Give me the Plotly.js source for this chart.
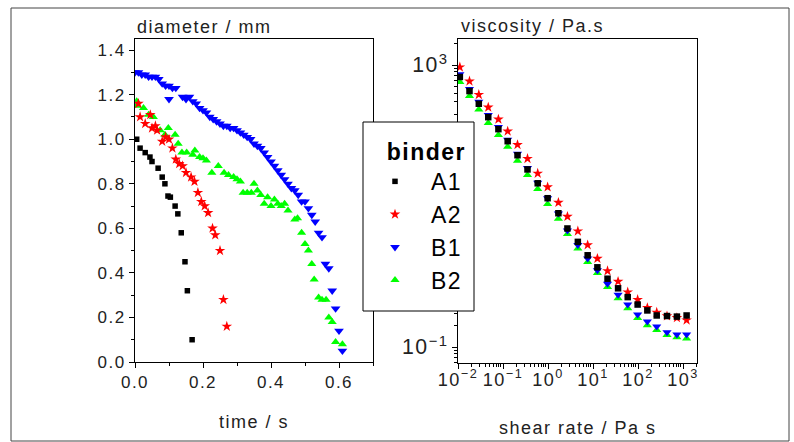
<!DOCTYPE html>
<html>
<head>
<meta charset="utf-8">
<script src="https://cdn.plot.ly/plotly-3.0.1.min.js"></script>
<style>
  html, body { margin: 0; padding: 0; background: #fff; }
  svg text { letter-spacing: 1.5px; }
</style>
</head>
<body>
<div id="chart" style="width:794px;height:442px;"></div>
<script>
// ---- Left panel: diameter vs time ----
const timeA1 = [0.005, 0.015, 0.030, 0.044, 0.050, 0.068, 0.080, 0.088, 0.097, 0.104, 0.118, 0.126, 0.136, 0.147, 0.154, 0.168];
const diamA1 = [1.00, 0.96, 0.94, 0.92, 0.90, 0.87, 0.83, 0.80, 0.745, 0.74, 0.70, 0.665, 0.58, 0.45, 0.32, 0.10];

const timeA2 = [0.010, 0.015, 0.030, 0.045, 0.050, 0.060, 0.065, 0.080, 0.090, 0.100, 0.110, 0.120, 0.130, 0.140, 0.150, 0.165, 0.175, 0.185, 0.195, 0.205, 0.215, 0.228, 0.236, 0.250, 0.260, 0.270];
const diamA2 = [1.16, 1.10, 1.07, 1.11, 1.05, 1.06, 1.04, 0.99, 1.01, 1.00, 0.96, 0.91, 0.89, 0.88, 0.85, 0.83, 0.81, 0.76, 0.72, 0.70, 0.67, 0.60, 0.57, 0.50, 0.28, 0.16];

const timeB1 = [0.00, 0.01, 0.02, 0.03, 0.04, 0.05, 0.06, 0.07, 0.08, 0.09, 0.10, 0.11, 0.12, 0.10, 0.14, 0.15, 0.16, 0.17, 0.18, 0.19, 0.20, 0.21, 0.22, 0.23, 0.24, 0.25, 0.26, 0.27, 0.28, 0.29, 0.30, 0.31, 0.32, 0.33, 0.34, 0.35, 0.36, 0.37, 0.38, 0.39, 0.40, 0.41, 0.42, 0.43, 0.44, 0.45, 0.46, 0.47, 0.48, 0.49, 0.50, 0.51, 0.52, 0.53, 0.54, 0.55, 0.56, 0.57, 0.58, 0.59, 0.60, 0.61];
const diamB1 = [1.30, 1.30, 1.29, 1.29, 1.28, 1.28, 1.28, 1.27, 1.25, 1.24, 1.24, 1.23, 1.23, 1.18, 1.19, 1.18, 1.19, 1.17, 1.16, 1.14, 1.13, 1.12, 1.10, 1.09, 1.08, 1.07, 1.06, 1.06, 1.05, 1.05, 1.04, 1.03, 1.02, 1.01, 1.00, 0.98, 0.97, 0.96, 0.94, 0.92, 0.90, 0.88, 0.86, 0.84, 0.82, 0.80, 0.78, 0.77, 0.75, 0.72, 0.72, 0.69, 0.66, 0.63, 0.58, 0.56, 0.44, 0.42, 0.32, 0.24, 0.14, 0.05];

const timeB2 = [0.005, 0.005, 0.025, 0.040, 0.054, 0.074, 0.088, 0.098, 0.118, 0.127, 0.138, 0.152, 0.170, 0.176, 0.190, 0.200, 0.210, 0.226, 0.245, 0.262, 0.275, 0.290, 0.300, 0.310, 0.318, 0.330, 0.342, 0.350, 0.360, 0.370, 0.380, 0.390, 0.400, 0.410, 0.420, 0.430, 0.440, 0.450, 0.470, 0.478, 0.490, 0.500, 0.510, 0.520, 0.527, 0.540, 0.550, 0.562, 0.570, 0.580, 0.590, 0.610];
const diamB2 = [1.17, 1.15, 1.14, 1.11, 1.10, 1.04, 1.02, 1.05, 1.02, 0.98, 0.94, 0.94, 0.93, 0.95, 0.92, 0.915, 0.905, 0.85, 0.88, 0.85, 0.84, 0.83, 0.82, 0.81, 0.76, 0.76, 0.76, 0.80, 0.77, 0.75, 0.71, 0.74, 0.70, 0.73, 0.71, 0.70, 0.71, 0.68, 0.64, 0.645, 0.58, 0.53, 0.50, 0.44, 0.37, 0.29, 0.28, 0.28, 0.20, 0.18, 0.09, 0.08];

// ---- Right panel: viscosity vs shear rate ----
const shearRate = [0.011, 0.018, 0.029, 0.047, 0.079, 0.127, 0.21, 0.35, 0.59, 0.98, 1.7, 2.7, 4.6, 7.6, 12.5, 21, 36, 59, 98, 161, 260, 440, 730, 1200];
const viscA1 = [676, 427, 282, 182, 123, 83, 52.5, 33, 21, 12.9, 7.9, 4.8, 3.1, 2.0, 1.35, 0.93, 0.68, 0.51, 0.40, 0.33, 0.28, 0.275, 0.27, 0.28];
const viscA2 = [933, 589, 380, 251, 170, 115, 74, 47, 29, 18.6, 11.2, 7.1, 4.4, 2.8, 1.8, 1.2, 0.85, 0.60, 0.47, 0.36, 0.31, 0.275, 0.26, 0.24];
const viscB1 = [741, 457, 302, 195, 132, 87, 55, 34.7, 21.4, 12.9, 7.8, 4.5, 2.8, 1.8, 1.23, 0.79, 0.55, 0.40, 0.29, 0.23, 0.195, 0.162, 0.151, 0.151];
const viscB2 = [575, 363, 234, 151, 102, 69, 44, 27.5, 17.4, 10.7, 6.6, 4.0, 2.5, 1.6, 1.12, 0.71, 0.49, 0.355, 0.257, 0.204, 0.174, 0.148, 0.138, 0.132];

// Tick label aliases (log axes: show every decade as a power of ten)
const xLogAlias = {'1': '10<sup>0</sup>', '10': '10<sup>1</sup>'};
// decades hidden behind the legend box in the original
const yLogAlias = {'1': ' ', '10': ' ', '10<sup>2</sup>': ' '};

const names = ['A1', 'A2', 'B1', 'B2'];
const colors = {A1: '#000000', A2: '#ff0000', B1: '#0000ff', B2: '#00ff00'};
const symbols = {A1: 'square', A2: 'star', B1: 'triangle-down', B2: 'triangle-up'};
const sizesL = {A1: 5.5, A2: 8, B1: 8.5, B2: 8};
const sizesR = {A1: 6.5, A2: 8, B1: 8, B2: 8};
const rank = {A1: 1, A2: 2, B1: 3, B2: 4};

const leftData = {A1: [timeA1, diamA1], A2: [timeA2, diamA2], B1: [timeB1, diamB1], B2: [timeB2, diamB2]};
const rightData = {A1: viscA1, A2: viscA2, B1: viscB1, B2: viscB2};

const drawOrder = ['B2', 'B1', 'A2', 'A1'];
const traces = [];
drawOrder.forEach(n => {
  traces.push({
    type: 'scatter', mode: 'markers', name: n,
    x: leftData[n][0], y: leftData[n][1], xaxis: 'x', yaxis: 'y',
    legendrank: rank[n],
    marker: {symbol: symbols[n], color: colors[n], size: sizesL[n], line: {width: 0}}
  });
});
drawOrder.forEach(n => {
  traces.push({
    type: 'scatter', mode: 'markers', name: n, showlegend: false,
    x: shearRate, y: rightData[n], xaxis: 'x2', yaxis: 'y2',
    marker: {symbol: symbols[n], color: colors[n], size: sizesR[n], line: {width: 0}}
  });
});

const W = 794, H = 442;
const FONT = 'Liberation Sans, Arial, sans-serif';
const tickFont = {family: FONT, size: 17, color: '#222'};
const baseAxis = {
  showline: true, linecolor: '#000', linewidth: 1, mirror: true,
  showgrid: false, zeroline: false,
  ticks: 'outside', ticklen: 5, tickwidth: 1, tickcolor: '#000',
  tickfont: tickFont, tickangle: 0
};

const layout = {
  width: W, height: H,
  margin: {l: 0, r: 0, t: 0, b: 0},
  paper_bgcolor: '#fff', plot_bgcolor: '#fff',
  font: {family: FONT, color: '#222'},
  xaxis: Object.assign({}, baseAxis, {
    domain: [135 / W, 373 / W], range: [0, 0.7], tick0: 0, dtick: 0.2, tickformat: '.1f', anchor: 'y',
    minor: {dtick: 0.1, ticks: 'outside', ticklen: 3, tickcolor: '#000', showgrid: false}
  }),
  yaxis: Object.assign({}, baseAxis, {
    domain: [1 - 362 / H, 1 - 39 / H], range: [0, 1.45], tick0: 0, dtick: 0.2, tickformat: '.1f', anchor: 'x',
    minor: {dtick: 0.1, ticks: 'outside', ticklen: 3, tickcolor: '#000', showgrid: false}
  }),
  xaxis2: Object.assign({}, baseAxis, {
    type: 'log', domain: [458 / W, 697 / W], range: [-2, 3.31], dtick: 1, exponentformat: 'power', anchor: 'y2',
    labelalias: xLogAlias, ticklabelstandoff: -4,
    tickfont: {family: FONT, size: 14.5, color: '#222'},
    minor: {dtick: 'D1', ticks: 'outside', ticklen: 3, tickcolor: '#000', showgrid: false}
  }),
  yaxis2: Object.assign({}, baseAxis, {
    type: 'log', domain: [1 - 363 / H, 1 - 39 / H], range: [-1.227, 3.369], dtick: 1, exponentformat: 'power', anchor: 'x2',
    labelalias: yLogAlias,
    minor: {dtick: 'D1', ticks: 'outside', ticklen: 3, tickcolor: '#000', showgrid: false}
  }),
  legend: {
    x: 359 / W, y: 1 - 130 / H, xanchor: 'left', yanchor: 'top',
    bgcolor: 'rgba(0,0,0,0)', borderwidth: 0,
    font: {family: FONT, size: 23, color: '#000'},
    title: {text: '<b>binder</b>', side: 'top right', font: {family: FONT, size: 23, color: '#000'}},
    tracegroupgap: 0, itemwidth: 62
  },
  showlegend: true,
  shapes: [
    {type: 'rect', xref: 'paper', yref: 'paper', x0: 11 / W, x1: 789 / W, y0: 1 - 441 / H, y1: 1 - 8 / H,
     line: {color: '#444', width: 1}, fillcolor: 'rgba(0,0,0,0)', layer: 'below'},
    {type: 'rect', xref: 'paper', yref: 'paper', x0: 363 / W, x1: 474 / W, y0: 1 - 311 / H, y1: 1 - 122 / H,
     line: {color: '#000', width: 1}, fillcolor: '#fff', layer: 'above'}
  ],
  annotations: [
    {text: 'diameter / mm', xref: 'paper', yref: 'paper', x: 135 / W, y: 1 - 27 / H, xanchor: 'left', yanchor: 'middle',
     showarrow: false, font: {family: FONT, size: 18, color: '#222'}},
    {text: 'viscosity / Pa.s', xref: 'paper', yref: 'paper', x: 459 / W, y: 1 - 26 / H, xanchor: 'left', yanchor: 'middle',
     showarrow: false, font: {family: FONT, size: 18, color: '#222'}},
    {text: 'time / s', xref: 'paper', yref: 'paper', x: 254 / W, y: 1 - 422 / H, xanchor: 'center', yanchor: 'middle',
     showarrow: false, font: {family: FONT, size: 18, color: '#222'}},
    {text: 'shear rate / Pa s', xref: 'paper', yref: 'paper', x: 578 / W, y: 1 - 428 / H, xanchor: 'center', yanchor: 'middle',
     showarrow: false, font: {family: FONT, size: 18, color: '#222'}}
  ]
};

Plotly.newPlot('chart', traces, layout, {displayModeBar: false, staticPlot: true});
</script>
</body>
</html>
